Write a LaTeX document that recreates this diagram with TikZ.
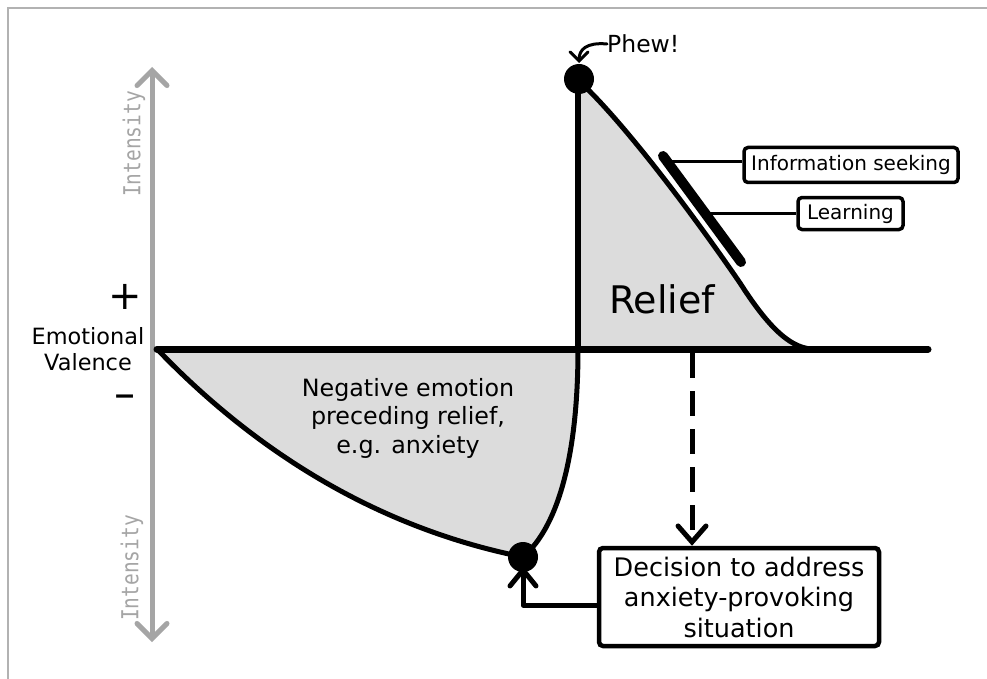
\documentclass[tikz,border=0pt]{standalone}
\usepackage{fontspec}
\setmainfont{DejaVu Sans}
\newfontfamily\monof{DejaVu Sans Mono}
\usetikzlibrary{arrows.meta}
\definecolor{fillgray}{RGB}{220,220,220}
\definecolor{axgray}{RGB}{165,165,165}
\definecolor{framegray}{RGB}{178,178,178}
\tikzset{
  curve/.style={line width=5pt, black, line cap=round, line join=round},
  dotnode/.style={circle, fill=black, minimum size=30pt, inner sep=0pt},
  lbox/.style={draw, line width=3.5pt, rounded corners=4pt, fill=white, inner sep=0pt, align=center},
  intlabel/.style={rotate=90, text=axgray, font=\monof\fontsize{19.5}{19.5}\selectfont},
}
\begin{document}
\begin{tikzpicture}[x=1pt, y=-1pt]
\useasboundingbox (0,0) rectangle (987,679);
\fill[white] (0,0) rectangle (987,679);
% frame
\draw[framegray, line width=2pt] (8,690) -- (8,8) -- (995,8);

% key points
\coordinate (origin) at (157,349);
\coordinate (axend) at (928,349);
\coordinate (negbot) at (523,557);
\coordinate (posbase) at (578,349);
\coordinate (postop) at (579,79);
\coordinate (posend) at (812,349);

% fills
\fill[fillgray] (origin) .. controls (252,448) and (373,527) .. (negbot)
  .. controls (560,525) and (578,450) .. (posbase) -- cycle;
\fill[fillgray] (posbase) -- (578,80) .. controls (620,118) and (690,210) .. (740,283)
  .. controls (765,322) and (788,348) .. (posend) -- cycle;

% vertical gray intensity axis
\coordinate (ytop) at (152,67);
\coordinate (ybot) at (152,642);
\draw[axgray, line width=5pt, line cap=round,
  {Straight Barb[length=15pt, width=30pt, line cap=round]}-{Straight Barb[length=15pt, width=30pt, line cap=round]}]
  (ytop) -- (ybot);
\node[intlabel] (int1) at (134,144) {\scalebox{1}[1.2]{Intensity}};
\node[intlabel] (int2) at (132,568) {\scalebox{1}[1.2]{Intensity}};

% horizontal valence axis
\draw[line width=7pt, line cap=round] (origin) -- (axend);

% curves
\draw[curve] (origin) .. controls (252,448) and (373,527) .. (negbot)
  .. controls (560,525) and (578,450) .. (posbase);
\draw[curve, line width=5.5pt] (posbase) -- (578,80);
\draw[curve] (578,80) .. controls (620,118) and (690,210) .. (740,283)
  .. controls (765,322) and (788,348) .. (posend);

% dots
\node[dotnode] (dtop) at (postop) {};
\node[dotnode] (dbot) at (negbot) {};

% thick bar along the slope
\coordinate (bs) at (663,156);
\coordinate (be) at (741,262);
\draw[line width=10pt, line cap=round] (bs) -- (be);

% labels boxes
\node[lbox, minimum width=214pt, minimum height=35pt, font=\fontsize{20}{24}\selectfont] (info) at (851,165) {Information seeking};
\node[lbox, minimum width=105pt, minimum height=32pt, font=\fontsize{20}{24}\selectfont] (learn) at (850.5,213.5) {Learning};
\coordinate (ib) at (668,162);
\coordinate (lb) at (708,213);
\draw[line width=3pt] (ib) -- (ib -| info.west);
\draw[line width=3pt] (lb) -- (lb -| learn.west);

% decision box
\node[lbox, line width=4.5pt, minimum width=280pt, minimum height=98pt, font=\fontsize{25.5}{30.5}\selectfont] (dec) at (739,597)
  {Decision to address\\anxiety-provoking\\situation};

% dashed arrow from axis to decision
\coordinate (dstart) at (692,353);
\draw[line width=5pt, dash pattern=on 25pt off 13pt,
  -{Straight Barb[length=16pt, width=28pt, line cap=round]}]
  (dstart) -- (dstart |- dec.north);

% arrow from decision to bottom dot
\coordinate (lt) at (523,566);
\draw[line width=5pt, line join=round,
  -{Straight Barb[length=16pt, width=26pt, line cap=round]}]
  ([yshift=-8pt]dec.west) -| (lt);

% Phew
\node[anchor=west, font=\fontsize{23.5}{27}\selectfont, inner sep=0pt] (phew) at (607,44) {Phew!};
\draw[line width=3pt, line cap=round,
  -{Straight Barb[length=9pt, width=18pt, line cap=round]}]
  (phew.west) .. controls (586,42) and (579,50) .. (579,63);

% texts
\node[font=\fontsize{38}{44}\selectfont, inner sep=0pt] (relief) at (662,299) {Relief};
\node[font=\fontsize{23.8}{28.5}\selectfont, align=center, inner sep=0pt] (neg) at (408,418)
  {Negative emotion\\preceding relief,\\e.g. anxiety};
\node[font=\fontsize{22.4}{26}\selectfont, align=center, inner sep=0pt] (ev) at (88,349) {Emotional\\Valence};
\node[font=\fontsize{40}{40}\selectfont, inner sep=0pt] (plus) at (125,297) {+};
\node[font=\fontsize{40}{40}\selectfont, inner sep=0pt] (minus) at (125,401) {\scalebox{1.6}[1]{-}};
\end{tikzpicture}
\end{document}
